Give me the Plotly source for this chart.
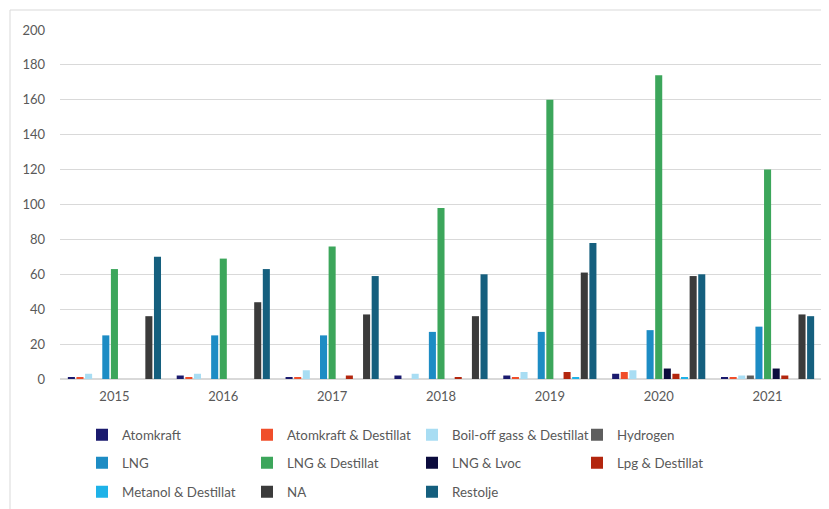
import plotly.graph_objects as go

# Data
years = ["2015", "2016", "2017", "2018", "2019", "2020", "2021"]

atomkraft = [1, 2, 1, 2, 2, 3, 1]
atomkraft_destillat = [1, 1, 1, 0, 1, 4, 1]
boiloff_destillat = [3, 3, 5, 3, 4, 5, 2]
hydrogen = [0, 0, 0, 0, 0, 0, 2]
lng = [25, 25, 25, 27, 27, 28, 30]
lng_destillat = [63, 69, 76, 98, 160, 174, 120]
lng_lvoc = [0, 0, 0, 0, 0, 6, 6]
lpg_destillat = [0, 0, 2, 1, 4, 3, 2]
metanol_destillat = [0, 0, 0, 0, 1, 1, 0]
na = [36, 44, 37, 36, 61, 59, 37]
restolje = [70, 63, 59, 60, 78, 60, 36]

series = [
    ("Atomkraft", atomkraft, "#1a1a6e", "legend"),
    ("Atomkraft & Destillat", atomkraft_destillat, "#f04e2a", "legend"),
    ("Boil-off gass & Destillat", boiloff_destillat, "#a8ddf3", "legend"),
    ("Hydrogen", hydrogen, "#5e5e5e", "legend"),
    ("LNG", lng, "#1d8cc4", "legend2"),
    ("LNG & Destillat", lng_destillat, "#3ca65b", "legend2"),
    ("LNG & Lvoc", lng_lvoc, "#0b0b3d", "legend2"),
    ("Lpg & Destillat", lpg_destillat, "#b3260e", "legend2"),
    ("Metanol & Destillat", metanol_destillat, "#1eb2e8", "legend3"),
    ("NA", na, "#3b3b3b", "legend3"),
    ("Restolje", restolje, "#155f7e", "legend3"),
]

font_family = "Lato, 'Open Sans', sans-serif"
txt_color = "#595959"

fig = go.Figure()
for name, vals, col, leg in series:
    fig.add_trace(go.Bar(x=years, y=vals, name=name, marker_color=col,
                         marker_line_width=0, legend=leg))

# page body adds an 8px offset, so the figure is a bit smaller than the window
W, H = 821, 501
ml, mr, mt, mb = 52, 7, 22, 130
pw, ph = W - ml - mr, H - mt - mb


def leg(ypx):
    # one legend per row, placed in container coordinates
    return dict(orientation="h", xref="container", yref="container",
                x=74 / W, xanchor="left",
                y=1 - (ypx - 8) / H, yanchor="middle",
                entrywidth=120, entrywidthmode="pixels",
                font=dict(family=font_family, size=13.3, color=txt_color),
                bgcolor="rgba(0,0,0,0)", itemclick=False)


fig.update_layout(
    width=W, height=H,
    margin=dict(l=ml, r=mr, t=mt, b=mb, autoexpand=False),
    plot_bgcolor="white", paper_bgcolor="white",
    barmode="group", bargap=0.13, bargroupgap=0.18,
    font=dict(family=font_family, size=13, color=txt_color),
    legend=leg(435), legend2=leg(463), legend3=leg(492),
    showlegend=True,
)

fig.update_yaxes(range=[0, 200], dtick=20, showgrid=True, gridcolor="#d9d9d9",
                 gridwidth=1, zeroline=True, zerolinecolor="#d9d9d9",
                 showline=False, ticks="", ticklabelstandoff=14,
                 automargin=False,
                 tickfont=dict(size=13, color=txt_color))
fig.update_xaxes(showline=False, ticks="", ticklabelstandoff=8, automargin=False,
                 tickfont=dict(size=13, color=txt_color))

# outer chart border
fig.add_shape(type="rect", xref="paper", yref="paper",
              x0=(2 - ml) / pw, x1=(W + 5 - ml) / pw,
              y0=-(H + 5 - (H - mb)) / ph, y1=1 + 20 / ph,
              line=dict(color="#d9d9d9", width=1), fillcolor="rgba(0,0,0,0)",
              layer="below")

fig.write_html("out.html")
